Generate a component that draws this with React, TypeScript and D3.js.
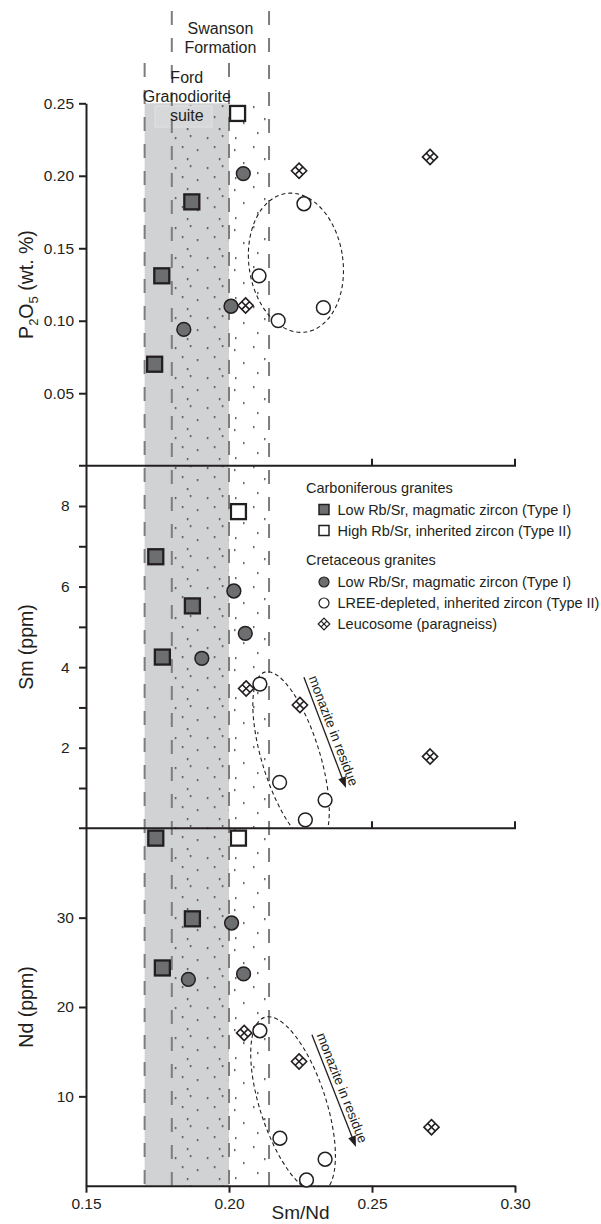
import React, { useEffect, useRef } from 'react'
import * as d3 from 'd3'

// Sm/Nd against P2O5 (wt. %)
const p2o5CarbLow = [[0.187, 0.182], [0.1765, 0.131], [0.174, 0.07]]
const p2o5CarbHigh = [[0.203, 0.243]]
const p2o5CretLow = [[0.205, 0.2015], [0.2007, 0.11], [0.1842, 0.094]]
const p2o5CretDepleted = [[0.2262, 0.1807], [0.2105, 0.131], [0.2172, 0.1001], [0.233, 0.109]]
const p2o5Leucosome = [[0.2245, 0.2035], [0.2703, 0.213], [0.2058, 0.1105]]

// Sm/Nd against Sm (ppm)
const smCarbLow = [[0.1744, 6.74], [0.1872, 5.52], [0.1767, 4.25]]
const smCarbHigh = [[0.2033, 7.86]]
const smCretLow = [[0.2017, 5.89], [0.2057, 4.84], [0.1905, 4.22]]
const smCretDepleted = [[0.2108, 3.58], [0.2177, 1.14], [0.2336, 0.7], [0.2267, 0.21]]
const smLeucosome = [[0.206, 3.47], [0.2248, 3.06], [0.2703, 1.78]]

// Sm/Nd against Nd (ppm)
const ndCarbLow = [[0.1744, 38.9], [0.1872, 29.87], [0.1767, 24.37]]
const ndCarbHigh = [[0.2033, 38.9]]
const ndCretLow = [[0.2009, 29.4], [0.2051, 23.7], [0.1858, 23.1]]
const ndCretDepleted = [[0.2108, 17.34], [0.2178, 5.31], [0.2336, 2.96], [0.2271, 0.64]]
const ndLeucosome = [[0.2053, 17.1], [0.2245, 13.9], [0.2708, 6.55]]

// fields and trends
const fordBand = [0.1705, 0.2]
const swansonBand = [0.18, 0.214]
const p2o5Field = [0.2234, 0.14]
const smField = [0.2217, 1.74]
const ndField = [0.2224, 9.05]
const smArrow = [[0.2262, 3.75], [0.2409, 1.0]]
const ndArrow = [[0.229, 16.9], [0.2444, 4.34]]

// axes
const xDomain = [0.15, 0.3]
const xTicks = [0.15, 0.2, 0.25, 0.3]
const p2o5Ticks = [0.05, 0.1, 0.15, 0.2, 0.25]
const smTicks = [1, 2, 3, 4, 5, 6, 7, 8]
const ndTicks = [10, 20, 30]

const legendCarb = [
  { kind: 'sqFilled', label: 'Low Rb/Sr, magmatic zircon (Type I)' },
  { kind: 'sqOpen', label: 'High Rb/Sr, inherited zircon (Type II)' },
]
const legendCret = [
  { kind: 'circFilled', label: 'Low Rb/Sr, magmatic zircon (Type I)' },
  { kind: 'circOpen', label: 'LREE-depleted, inherited zircon (Type II)' },
  { kind: 'diamond', label: 'Leucosome (paragneiss)' },
]

const W = 601
const H = 1224
const X0 = 86
const X1 = 515
const TOP = 103.3
const SEP1 = 465.7
const SEP2 = 828.3
const BOTTOM = 1185.7

const INK = '#231f20'
const GREY_FILL = '#6d6e70'
const FONT = '"Liberation Sans", Arial, Helvetica, sans-serif'

const drawMarker = (g, kind, cx, cy, small = false) => {
  if (kind === 'sqFilled' || kind === 'sqOpen') {
    const s = small ? 10 : 15
    g.append('rect')
      .attr('x', cx - s / 2)
      .attr('y', cy - s / 2)
      .attr('width', s)
      .attr('height', s)
      .attr('fill', kind === 'sqFilled' ? GREY_FILL : '#fff')
      .attr('stroke', INK)
      .attr('stroke-width', small ? 1.5 : 2.3)
  } else if (kind === 'circFilled' || kind === 'circOpen') {
    g.append('circle')
      .attr('cx', cx)
      .attr('cy', cy)
      .attr('r', small ? 5 : 6.9)
      .attr('fill', kind === 'circFilled' ? GREY_FILL : '#fff')
      .attr('stroke', INK)
      .attr('stroke-width', small ? 1.2 : 1.5)
  } else {
    const h = small ? 5.8 : 7.6
    g.append('path')
      .attr(
        'd',
        `M${cx},${cy - h}L${cx + h},${cy}L${cx},${cy + h}L${cx - h},${cy}Z` +
          `M${cx + h / 2},${cy - h / 2}L${cx - h / 2},${cy + h / 2}` +
          `M${cx - h / 2},${cy - h / 2}L${cx + h / 2},${cy + h / 2}`
      )
      .attr('fill', '#fff')
      .attr('stroke', INK)
      .attr('stroke-width', small ? 1.2 : 1.6)
      .attr('stroke-linejoin', 'miter')
  }
}

const App = () => {
  const svgRef = useRef(null)

  useEffect(() => {
    document.body.style.margin = '0'
    document.body.style.overflow = 'hidden'

    const svg = d3.select(svgRef.current)
    svg.selectAll('*').remove()
    svg.style('font-family', FONT)

    const x = d3.scaleLinear().domain(xDomain).range([X0, X1])

    const panels = [
      {
        id: 'p',
        y: d3.scaleLinear().domain([0, 0.25]).range([SEP1, TOP]),
        top: TOP,
        bottom: SEP1,
        series: [
          ['sqFilled', p2o5CarbLow],
          ['sqOpen', p2o5CarbHigh],
          ['circFilled', p2o5CretLow],
          ['circOpen', p2o5CretDepleted],
          ['diamond', p2o5Leucosome],
        ],
        field: { c: p2o5Field, rx: 47, ry: 70, rot: -8 },
        arrow: null,
      },
      {
        id: 's',
        y: d3.scaleLinear().domain([0, 9]).range([SEP2, SEP1]),
        top: SEP1,
        bottom: SEP2,
        series: [
          ['sqFilled', smCarbLow],
          ['sqOpen', smCarbHigh],
          ['circFilled', smCretLow],
          ['circOpen', smCretDepleted],
          ['diamond', smLeucosome],
        ],
        field: { c: smField, rx: 90, ry: 29, rot: 73 },
        arrow: smArrow,
      },
      {
        id: 'n',
        y: d3.scaleLinear().domain([0, 40]).range([BOTTOM, SEP2]),
        top: SEP2,
        bottom: BOTTOM,
        series: [
          ['sqFilled', ndCarbLow],
          ['sqOpen', ndCarbHigh],
          ['circFilled', ndCretLow],
          ['circOpen', ndCretDepleted],
          ['diamond', ndLeucosome],
        ],
        field: { c: ndField, rx: 92, ry: 33, rot: 72 },
        arrow: ndArrow,
      },
    ]

    const defs = svg.append('defs')

    // stipple textures for the two formations
    const dense = defs
      .append('pattern')
      .attr('id', 'dotsDense')
      .attr('patternUnits', 'userSpaceOnUse')
      .attr('x', x(swansonBand[0]))
      .attr('y', TOP)
      .attr('width', 32)
      .attr('height', 30)
    ;[[3, 4], [18, 2], [10, 13], [25, 16], [15, 25]].forEach(([a, b]) =>
      dense.append('rect').attr('x', a).attr('y', b).attr('width', 1.5).attr('height', 1.5).attr('fill', INK)
    )
    const sparse = defs
      .append('pattern')
      .attr('id', 'dotsSparse')
      .attr('patternUnits', 'userSpaceOnUse')
      .attr('x', x(fordBand[1]))
      .attr('y', TOP)
      .attr('width', 42)
      .attr('height', 40)
    ;[[5, 6], [24, 3], [35, 15], [14, 19], [28, 29], [6, 34]].forEach(([a, b]) =>
      sparse.append('rect').attr('x', a).attr('y', b).attr('width', 1.5).attr('height', 1.5).attr('fill', INK)
    )

    panels.forEach((p) => {
      defs
        .append('clipPath')
        .attr('id', `clip-${p.id}`)
        .append('rect')
        .attr('x', X0)
        .attr('y', p.top)
        .attr('width', X1 - X0)
        .attr('height', p.bottom - p.top)
    })

    // grey Ford Granodiorite field
    svg
      .append('rect')
      .attr('x', x(fordBand[0]))
      .attr('y', TOP)
      .attr('width', x(fordBand[1]) - x(fordBand[0]))
      .attr('height', BOTTOM - TOP)
      .attr('fill', '#d1d2d4')

    svg
      .append('rect')
      .attr('x', x(swansonBand[0]))
      .attr('y', TOP)
      .attr('width', x(fordBand[1]) - x(swansonBand[0]))
      .attr('height', BOTTOM - TOP)
      .attr('fill', 'url(#dotsDense)')
    svg
      .append('rect')
      .attr('x', x(fordBand[1]))
      .attr('y', TOP)
      .attr('width', x(swansonBand[1]) - x(fordBand[1]))
      .attr('height', BOTTOM - TOP)
      .attr('fill', 'url(#dotsSparse)')

    // label box behind "suite"
    svg
      .append('rect')
      .attr('x', 155)
      .attr('y', 106)
      .attr('width', 57)
      .attr('height', 21)
      .attr('fill', '#d7d8d9')
      .attr('stroke', '#e6e6e6')
      .attr('stroke-width', 0.8)

    // dashed field boundaries
    const dashed = [
      [fordBand[0], 63],
      [fordBand[1], 63],
      [swansonBand[0], 11],
      [swansonBand[1], 11],
    ]
    dashed.forEach(([v, y0]) => {
      svg
        .append('line')
        .attr('x1', x(v))
        .attr('x2', x(v))
        .attr('y1', y0)
        .attr('y2', BOTTOM)
        .attr('stroke', '#7d7d7f')
        .attr('stroke-width', 2)
        .attr('stroke-dasharray', '14,13')
    })

    const fieldLabel = (lines, cx, y0) => {
      lines.forEach((t, i) => {
        svg
          .append('text')
          .attr('x', cx)
          .attr('y', y0 + i * 19)
          .attr('text-anchor', 'middle')
          .attr('font-size', 16)
          .attr('fill', INK)
          .text(t)
      })
    }
    fieldLabel(['Swanson', 'Formation'], (x(swansonBand[0]) + x(swansonBand[1])) / 2, 34)
    fieldLabel(['Ford', 'Granodiorite', 'suite'], (x(fordBand[0]) + x(fordBand[1])) / 2, 83)

    // axes
    const styleAxis = (g, size) => {
      g.selectAll('path, line').attr('stroke', INK).attr('stroke-width', 2)
      g.selectAll('text').attr('fill', INK).attr('font-size', size).attr('font-family', FONT)
    }

    const fmt2 = d3.format('.2f')
    const yAxes = [
      d3.axisLeft(panels[0].y).tickValues(p2o5Ticks).tickFormat(fmt2).tickPadding(5),
      d3
        .axisLeft(panels[1].y)
        .tickValues(smTicks)
        .tickFormat((d) => (d % 2 === 0 ? String(d) : ''))
        .tickPadding(9.5),
      d3.axisLeft(panels[2].y).tickValues(ndTicks).tickFormat(d3.format('d')).tickPadding(5),
    ]
    yAxes.forEach((ax) => {
      const g = svg
        .append('g')
        .attr('transform', `translate(${X0},0)`)
        .call(ax.tickSize(7).tickSizeOuter(0))
      styleAxis(g, 15.5)
    })

    const gx = svg
      .append('g')
      .attr('transform', `translate(0,${BOTTOM})`)
      .call(d3.axisBottom(x).tickValues(xTicks).tickFormat(fmt2).tickSize(7).tickSizeOuter(0).tickPadding(5))
    styleAxis(gx, 15.5)

    // panel separators with upward ticks
    ;[SEP1, SEP2].forEach((yy) => {
      svg
        .append('line')
        .attr('x1', X0 - 7)
        .attr('x2', X1 + 1)
        .attr('y1', yy)
        .attr('y2', yy)
        .attr('stroke', INK)
        .attr('stroke-width', 2)
      ;[0.25, 0.3].forEach((v) => {
        svg
          .append('line')
          .attr('x1', x(v))
          .attr('x2', x(v))
          .attr('y1', yy)
          .attr('y2', yy - 7)
          .attr('stroke', INK)
          .attr('stroke-width', 2)
      })
    })

    // axis titles
    const yTitle = (cy) =>
      svg
        .append('text')
        .attr('transform', `translate(33,${cy}) rotate(-90)`)
        .attr('text-anchor', 'middle')
        .attr('font-size', 19.5)
        .attr('fill', INK)

    const pt = yTitle((TOP + SEP1) / 2)
    pt.append('tspan').text('P')
    pt.append('tspan').attr('font-size', 13).attr('dy', 5).text('2')
    pt.append('tspan').attr('dy', -5).text('O')
    pt.append('tspan').attr('font-size', 13).attr('dy', 5).text('5')
    pt.append('tspan').attr('dy', -5).text(' (wt. %)')
    yTitle((SEP1 + SEP2) / 2).text('Sm (ppm)')
    yTitle((SEP2 + BOTTOM) / 2).text('Nd (ppm)')

    svg
      .append('text')
      .attr('x', (X0 + X1) / 2)
      .attr('y', 1219)
      .attr('text-anchor', 'middle')
      .attr('font-size', 19)
      .attr('fill', INK)
      .text('Sm/Nd')

    // fields, trends and samples
    panels.forEach((p) => {
      const g = svg.append('g').attr('clip-path', `url(#clip-${p.id})`)
      const f = p.field
      g.append('ellipse')
        .attr('transform', `translate(${x(f.c[0])},${p.y(f.c[1])}) rotate(${f.rot})`)
        .attr('rx', f.rx)
        .attr('ry', f.ry)
        .attr('fill', 'none')
        .attr('stroke', INK)
        .attr('stroke-width', 1.1)
        .attr('stroke-dasharray', '4,3')

      if (p.arrow) {
        const [a, b] = p.arrow
        const x1 = x(a[0])
        const y1 = p.y(a[1])
        const x2 = x(b[0])
        const y2 = p.y(b[1])
        const ang = Math.atan2(y2 - y1, x2 - x1)
        const deg = (ang * 180) / Math.PI
        const ux = Math.cos(ang)
        const uy = Math.sin(ang)
        const nx = uy
        const ny = -ux
        const head = 11
        svg
          .append('line')
          .attr('x1', x1)
          .attr('y1', y1)
          .attr('x2', x2 - ux * head * 0.8)
          .attr('y2', y2 - uy * head * 0.8)
          .attr('stroke', INK)
          .attr('stroke-width', 1.3)
        svg
          .append('path')
          .attr(
            'd',
            `M${x2},${y2}L${x2 - ux * head + nx * 4},${y2 - uy * head + ny * 4}L${x2 - ux * head - nx * 4},${
              y2 - uy * head - ny * 4
            }Z`
          )
          .attr('fill', INK)
        const tx = x1 + ux * 2 + nx * 4
        const ty = y1 + uy * 2 + ny * 4
        svg
          .append('text')
          .attr('transform', `translate(${tx},${ty}) rotate(${deg})`)
          .attr('font-size', 13.5)
          .attr('fill', INK)
          .text('monazite in residue')
      }
    })

    panels.forEach((p) => {
      const g = svg.append('g')
      p.series.forEach(([kind, pts]) => {
        pts.forEach(([a, b]) => drawMarker(g, kind, x(a), p.y(b)))
      })
    })

    // legend
    const lg = svg.append('g').attr('font-size', 14.5).attr('fill', INK)
    const legendBlock = (title, items, y0) => {
      lg.append('text').attr('x', 306).attr('y', y0).text(title)
      items.forEach((it, i) => {
        const base = y0 + 22 + i * 21
        drawMarker(lg, it.kind, 324, base - 5, true)
        lg.append('text').attr('x', 337.5).attr('y', base).text(it.label)
      })
    }
    legendBlock('Carboniferous granites', legendCarb, 492.5)
    legendBlock('Cretaceous granites', legendCret, 565)

    return () => {
      svg.selectAll('*').remove()
    }
  }, [])

  return <svg ref={svgRef} width={W} height={H} style={{ display: 'block' }} />
}

export default App
